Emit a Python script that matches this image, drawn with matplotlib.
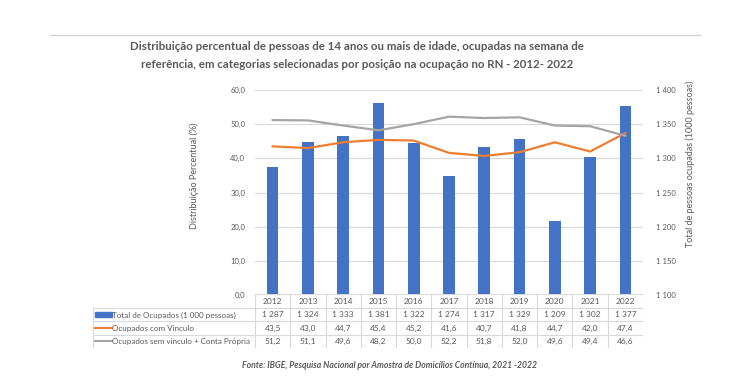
import matplotlib
matplotlib.use("Agg")
import matplotlib.pyplot as plt
from matplotlib.lines import Line2D
from matplotlib.patches import Rectangle
from matplotlib.ticker import FuncFormatter

plt.rcParams['font.family'] = ['Lato', 'DejaVu Sans']

# data
years = [2012, 2013, 2014, 2015, 2016, 2017, 2018, 2019, 2020, 2021, 2022]
total_ocupados = [1287, 1324, 1333, 1381, 1322, 1274, 1317, 1329, 1209, 1302, 1377]
com_vinculo = [43.5, 43.0, 44.7, 45.4, 45.2, 41.6, 40.7, 41.8, 44.7, 42.0, 47.4]
sem_vinculo = [51.2, 51.1, 49.6, 48.2, 50.0, 52.2, 51.8, 52.0, 49.6, 49.4, 46.6]
series_names = ["Total de Ocupados (1 000 pessoas)",
                "Ocupados com Vinculo",
                "Ocupados sem vinculo + Conta Própria"]

BLUE = "#4472C4"
ORANGE = "#ED7D31"
GRAY = "#A5A5A5"
TXT = "#595959"
GRID = "#D9D9D9"

W, H = 750, 386
fig = plt.figure(figsize=(7.5, 3.86), dpi=100)


def px_box(x0, y0, x1, y1):
    # pixel box (top-left origin) -> figure fraction rect
    return [x0 / W, 1 - y1 / H, (x1 - x0) / W, (y1 - y0) / H]


# top rule
fig.add_artist(Line2D([50 / W, 700 / W], [1 - 35 / H, 1 - 35 / H], color="#D0D0D0", lw=1))

fig.text(357 / W, 1 - 46 / H,
         "Distribuição percentual de pessoas de 14 anos ou mais de idade, ocupadas na semana de",
         ha="center", va="center", fontsize=8.3, fontweight="bold", color=TXT)
fig.text(357 / W, 1 - 65 / H,
         "referência, em categorias selecionadas por posição na ocupação no RN - 2012- 2022",
         ha="center", va="center", fontsize=8.3, fontweight="bold", color=TXT)

x = list(range(len(years)))

ax = fig.add_axes(px_box(255, 90, 643, 295))
ax2 = ax.twinx()
ax2.bar(x, total_ocupados, width=0.33, color=BLUE, zorder=2)
ax2.set_ylim(1100, 1400)
ax.set_ylim(0, 60)
ax.set_xlim(-0.5, len(years) - 0.5)
ax.set_zorder(ax2.get_zorder() + 1)
ax.patch.set_visible(False)

ax.plot(x, com_vinculo, color=ORANGE, lw=1.6)
ax.plot(x, sem_vinculo, color=GRAY, lw=1.6)

ax.set_yticks(range(0, 61, 10))
ax.yaxis.set_major_formatter(FuncFormatter(lambda v, p: f"{v:.1f}".replace(".", ",")))
ax2.set_yticks(range(1100, 1401, 50))
ax2.yaxis.set_major_formatter(FuncFormatter(lambda v, p: f"{int(v):,}".replace(",", " ")))
ax2.grid(axis="y", color=GRID, lw=0.8, zorder=0)
ax2.set_axisbelow(True)

for a in (ax, ax2):
    for s in a.spines.values():
        s.set_visible(False)
    a.tick_params(length=0, labelsize=5.5, colors=TXT)
ax.tick_params(axis="y", pad=7)
ax2.tick_params(axis="y", pad=9)
ax.set_xticks([])
ax.set_ylabel("Distribuição Percentual (%)", fontsize=6.5, color=TXT)
ax.yaxis.set_label_coords(-0.145, 0.58)
ax2.set_ylabel("Total de pessoas ocupadas (1000 pessoas)", fontsize=6.5, color=TXT)
ax2.yaxis.set_label_coords(1.11, 0.64)

# data table below the plot
ncol = len(years)
col_w = (643 - 255) / ncol
left_units = (255 - 93) / col_w
tab = fig.add_axes(px_box(93, 294, 643, 348))
tab.set_xlim(-0.5 - left_units, ncol - 0.5)
tab.set_ylim(4, 0)
tab.axis("off")

lc = dict(color=GRID, lw=0.8)
tab.plot([-0.5, ncol - 0.5], [0, 0], **lc)
for r in range(1, 5):
    tab.plot([-0.5 - left_units, ncol - 0.5], [r, r], **lc)
tab.plot([-0.5 - left_units] * 2, [1, 4], **lc)
for c in range(ncol + 1):
    tab.plot([c - 0.5] * 2, [0, 4], **lc)

rows = [
    [str(y) for y in years],
    [f"{v:,}".replace(",", " ") for v in total_ocupados],
    [f"{v:.1f}".replace(".", ",") for v in com_vinculo],
    [f"{v:.1f}".replace(".", ",") for v in sem_vinculo],
]
for r, vals in enumerate(rows):
    for c, s in enumerate(vals):
        tab.text(c, r + 0.55, s, ha="center", va="center", fontsize=6, color=TXT)

x0 = -0.5 - left_units
key_w = 0.5
tab.add_patch(Rectangle((x0 + 0.05, 1.35), key_w, 0.35, color=BLUE))
tab.plot([x0 + 0.05, x0 + 0.05 + key_w], [2.5, 2.5], color=ORANGE, lw=1.5)
tab.plot([x0 + 0.05, x0 + 0.05 + key_w], [3.5, 3.5], color=GRAY, lw=1.5)
for r, name in enumerate(series_names):
    tab.text(x0 + 0.05 + key_w, r + 1.55, name, ha="left", va="center", fontsize=5.8, color=TXT)

fig.text(390 / W, 1 - 365 / H,
         "Fonte: IBGE, Pesquisa Nacional por Amostra de Domicílios Contínua, 2021 -2022",
         ha="center", va="center", fontsize=6.2, fontweight="bold", style="italic", color=TXT)

fig.savefig("out.png", dpi=100, facecolor="white")
